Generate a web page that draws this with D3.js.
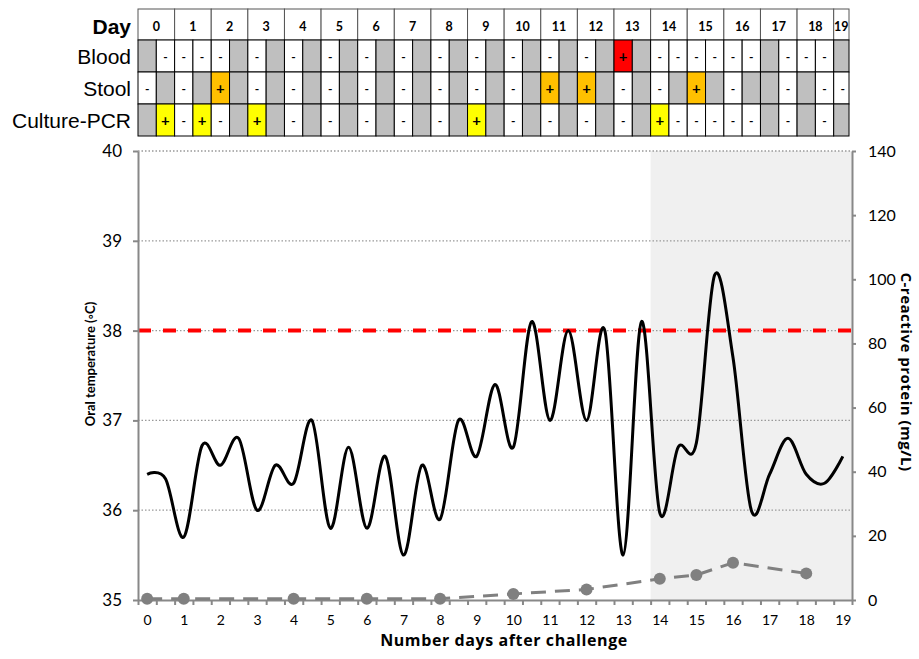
<!DOCTYPE html>
<html lang="en">
<head>
<meta charset="UTF-8">
<title>Oral temperature and CRP after challenge</title>
<script src="https://cdn.jsdelivr.net/npm/d3@7"></script>
<style>
  body { margin: 0; background: #fff; }
  text { font-family: Lato, "Open Sans", sans-serif; }
  .axis path, .axis line { stroke: #888; stroke-width: 2; }
  .axis text { fill: #000; }
  .title { font-family: "Open Sans", Lato, sans-serif; font-weight: bold; }
</style>
</head>
<body>
<script>
// half-day categories on the x axis, labelled on whole days
const halfDays = [0, 0.5, 1, 1.5, 2, 2.5, 3, 3.5, 4, 4.5, 5, 5.5, 6, 6.5, 7, 7.5, 8, 8.5, 9, 9.5,
  10, 10.5, 11, 11.5, 12, 12.5, 13, 13.5, 14, 14.5, 15, 15.5, 16, 16.5, 17, 17.5, 18, 18.5, 19];
const dayLabels = [0, 1, 2, 3, 4, 5, 6, 7, 8, 9, 10, 11, 12, 13, 14, 15, 16, 17, 18, 19];

// oral temperature (°C), one reading per half day
const temperature = [36.4, 36.35, 35.7, 36.72, 36.5, 36.8, 36.0, 36.5, 36.3, 37.0,
  35.8, 36.7, 35.8, 36.6, 35.5, 36.5, 35.9, 37.0, 36.6, 37.4,
  36.7, 38.1, 37.0, 38.0, 37.0, 38.0, 35.5, 38.1, 35.97, 36.7,
  36.75, 38.62, 37.7, 36.0, 36.4, 36.8, 36.4, 36.3, 36.6];

// C-reactive protein (mg/L)
const crpDays = [0, 1, 4, 6, 8, 10, 12, 14, 15, 16, 18];
const crpValues = [0.4, 0.4, 0.4, 0.4, 0.4, 1.9, 3.3, 6.6, 7.8, 11.6, 8.3];

const feverLevel = 38;
const shadeFromDay = 14;
const tempTicks = [35, 36, 37, 38, 39, 40];
const gridTicks = [36, 37, 38, 39, 40];
const crpTicks = [0, 20, 40, 60, 80, 100, 120, 140];

// sample table: G = no sample, - = negative, + = positive (one char per half day)
const rowNames = ["Blood", "Stool", "Culture-PCR"];
const blood   = "G----G-G-G-G-G-G-G-G-G-G-G+G------G---G".split("");
const stool   = "-G-G+G-G-G-G-G-G-G-G-G+G+G-G-G+G-GG-G--".split("");
const culture = "G+-+-G+G-G-G-G-G-G+G-G-G-G-G+-----G-G-G".split("");
const rowCodes = [blood, stool, culture];
const positiveColors = ["#ff0000", "#ffc000", "#ffff00"];

const width = 919, height = 659;
const plotLeft = 138, plotRight = 852, plotTop = 151, plotBottom = 600;

const svg = d3.select("body").append("svg")
  .attr("width", width)
  .attr("height", height);

const x = d3.scaleLinear().domain([-0.25, 19.25]).range([plotLeft, plotRight]);
const y = d3.scaleLinear().domain([35, 40]).range([plotBottom, plotTop]);
const yCrp = d3.scaleLinear().domain([0, 140]).range([plotBottom, plotTop]);

// ---- table above the chart ----
const tableTop = 9, headerH = 31, rowH = 32;
const tableRight = x(19.25) - 3;
const table = svg.append("g");

table.selectAll(".hdr")
  .data(dayLabels)
  .enter().append("rect")
  .attr("x", d => x(d - 0.25))
  .attr("y", tableTop)
  .attr("width", d => Math.min(x(d + 0.75), tableRight) - x(d - 0.25))
  .attr("height", headerH)
  .attr("fill", "#fff")
  .attr("stroke", "#555")
  .attr("stroke-width", 1);

table.selectAll(".hdrtxt")
  .data(dayLabels)
  .enter().append("text")
  .attr("x", d => (x(d - 0.25) + Math.min(x(d + 0.75), tableRight)) / 2)
  .attr("y", tableTop + 22)
  .attr("text-anchor", "middle")
  .attr("font-size", 12.5)
  .attr("font-weight", "bold")
  .text(d => d);

rowCodes.forEach((codes, r) => {
  const ry = tableTop + headerH + r * rowH;
  const cells = table.append("g");
  cells.selectAll("rect")
    .data(codes)
    .enter().append("rect")
    .attr("x", (c, i) => x(halfDays[i] - 0.25))
    .attr("y", ry)
    .attr("width", (c, i) => Math.min(x(halfDays[i] + 0.25), tableRight) - x(halfDays[i] - 0.25))
    .attr("height", rowH)
    .attr("fill", c => c === "G" ? "#bfbfbf" : c === "+" ? positiveColors[r] : "#fff")
    .attr("stroke", "#000")
    .attr("stroke-width", 1);
  cells.selectAll("text")
    .data(codes.map((c, i) => ({ c, day: halfDays[i] })).filter(d => d.c !== "G"))
    .enter().append("text")
    .attr("x", d => x(d.day))
    .attr("y", d => ry + rowH / 2 + (d.c === "+" ? 6 : 5))
    .attr("text-anchor", "middle")
    .attr("font-size", d => d.c === "+" ? 15 : 12)
    .attr("font-weight", "bold")
    .text(d => d.c);
});

table.append("text")
  .attr("x", 131).attr("y", tableTop + 25)
  .attr("text-anchor", "end")
  .style("font-family", "'Liberation Sans', Arial, sans-serif")
  .attr("font-size", 21).attr("font-weight", "bold")
  .text("Day");

table.selectAll(".rowname")
  .data(rowNames)
  .enter().append("text")
  .attr("x", 131)
  .attr("y", (d, i) => tableTop + headerH + i * rowH + 24)
  .attr("text-anchor", "end")
  .style("font-family", "'Liberation Sans', Arial, sans-serif")
  .attr("font-size", 21)
  .text(d => d);

// ---- chart ----
svg.append("rect")
  .attr("x", x(shadeFromDay - 0.25))
  .attr("y", plotTop)
  .attr("width", plotRight - x(shadeFromDay - 0.25))
  .attr("height", plotBottom - plotTop)
  .attr("fill", "#f0f0f0");

svg.append("g")
  .selectAll("line")
  .data(gridTicks)
  .enter().append("line")
  .attr("x1", plotLeft).attr("x2", plotRight)
  .attr("y1", d => y(d)).attr("y2", d => y(d))
  .attr("stroke", "#999")
  .attr("stroke-width", 1.3)
  .attr("stroke-dasharray", "1.5,2");

svg.append("line")
  .attr("x1", plotLeft).attr("x2", plotRight)
  .attr("y1", y(feverLevel)).attr("y2", y(feverLevel))
  .attr("stroke", "#ff0000")
  .attr("stroke-width", 4)
  .attr("stroke-dasharray", "13,12");

// axes
svg.append("g")
  .attr("class", "axis")
  .attr("transform", `translate(${plotLeft},0)`)
  .call(d3.axisLeft(y).tickValues(tempTicks).tickFormat(d3.format("d"))
    .tickSize(5).tickPadding(11).tickSizeOuter(0))
  .call(g => g.selectAll("text").attr("font-size", 17));

svg.append("g")
  .attr("class", "axis")
  .attr("transform", `translate(${plotRight},0)`)
  .call(d3.axisRight(yCrp).tickValues(crpTicks).tickSize(4).tickPadding(12).tickSizeOuter(0))
  .call(g => g.selectAll("text").attr("font-size", 16));

const boundaries = halfDays.map(d => d - 0.25).concat([19.25]);
svg.append("g")
  .attr("class", "axis")
  .attr("transform", `translate(0,${plotBottom})`)
  .call(d3.axisBottom(x).tickValues(boundaries).tickSize(5).tickFormat("").tickSizeOuter(0));

svg.append("g")
  .attr("class", "axis")
  .attr("transform", `translate(0,${plotBottom})`)
  .call(d3.axisBottom(x).tickValues(dayLabels).tickSize(0).tickPadding(15))
  .call(g => g.select(".domain").remove())
  .call(g => g.selectAll("text").attr("font-size", 14));

// CRP series
const crp = crpDays.map((d, i) => ({ day: d, v: crpValues[i] }));
svg.append("path")
  .datum(crp)
  .attr("fill", "none")
  .attr("stroke", "#808080")
  .attr("stroke-width", 3)
  .attr("stroke-dasharray", "15,9")
  .attr("d", d3.line().x(d => x(d.day)).y(d => yCrp(d.v)));

svg.append("g")
  .selectAll("circle")
  .data(crp)
  .enter().append("circle")
  .attr("cx", d => x(d.day))
  .attr("cy", d => yCrp(d.v))
  .attr("r", 6)
  .attr("fill", "#808080");

// temperature series
const temps = halfDays.map((d, i) => ({ day: d, t: temperature[i] }));
svg.append("path")
  .datum(temps)
  .attr("fill", "none")
  .attr("stroke", "#000")
  .attr("stroke-width", 3)
  .attr("stroke-linejoin", "round")
  .attr("d", d3.line().x(d => x(d.day)).y(d => y(d.t)).curve(d3.curveCardinal.tension(0)));

// axis titles
svg.append("text")
  .attr("class", "title")
  .attr("x", 504).attr("y", 646)
  .attr("text-anchor", "middle")
  .attr("font-size", 16)
  .attr("letter-spacing", 0.6)
  .text("Number days after challenge");

svg.append("text")
  .attr("transform", "translate(95,364) rotate(-90)")
  .attr("text-anchor", "middle")
  .attr("font-size", 13)
  .attr("font-weight", "bold")
  .text("Oral temperature (\u25e6C)");

svg.append("text")
  .attr("class", "title")
  .attr("transform", "translate(901,372) rotate(90)")
  .attr("text-anchor", "middle")
  .attr("font-size", 15)
  .attr("letter-spacing", 0.5)
  .text("C-reactive protein  (mg/L)");
</script>
</body>
</html>
